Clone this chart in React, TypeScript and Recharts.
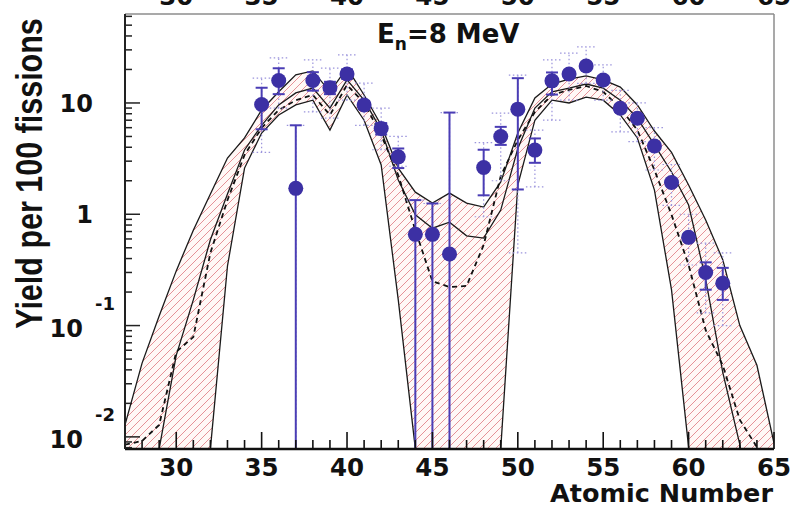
import React from 'react';
import {
  ComposedChart,
  Area,
  Line,
  Scatter,
  XAxis,
  YAxis,
  ErrorBar,
  ReferenceLine,
} from 'recharts';

// ---- model curves (yield per 100 fissions) at Z = 27..65 ----
const atomicNumbers = [
  27, 28, 29, 30, 31, 32, 33, 34, 35, 36, 37, 38, 39, 40, 41, 42, 43, 44, 45, 46,
  47, 48, 49, 50, 51, 52, 53, 54, 55, 56, 57, 58, 59, 60, 61, 62, 63, 64, 65,
];
const upperCurve = [
  0.0128, 0.046, 0.122, 0.31, 0.72, 1.52, 3.2, 4.85, 8.65, 12.6, 17.9, 19.4, 12.6,
  20.6, 11.8, 6.3, 2.6, 1.58, 1.26, 1.55, 1.26, 1.16, 1.95, 5.37, 11.1, 14.8, 16.4,
  17.5, 16.1, 13.9, 9.6, 5.6, 3.6, 1.83, 0.89, 0.39, 0.1, 0.044, 0.0088,
];
const middleCurve = [
  0.001, 0.001, 0.0078, 0.054, 0.17, 0.59, 1.52, 3.78, 6.3, 9.6, 12.3, 13.6, 9.0,
  16.1, 10.6, 5.7, 2.03, 0.99, 0.75, 0.85, 0.64, 0.61, 1.09, 3.9, 9.0, 12.6, 13.6,
  14.8, 13.6, 10.6, 7.3, 4.2, 2.4, 1.21, 0.26, 0.038, 0.0085, 0.001, 0.001,
];
const dashedCurve = [
  0.0085, 0.0092, 0.0128, 0.058, 0.079, 0.45, 1.34, 3.41, 5.96, 8.65, 10.6, 11.8,
  7.8, 14.5, 10, 5.15, 2.25, 0.72, 0.25, 0.222, 0.227, 0.53, 2.2, 4.65, 8.3, 11.8,
  13.1, 14.2, 12.6, 9.0, 5.7, 2.5, 0.99, 0.35, 0.091, 0.044, 0.0142, 0.0081, 0.001,
];
const lowerCurve = [
  0.001, 0.001, 0.001, 0.001, 0.001, 0.0078, 0.343, 2.6, 5.37, 7.8, 9.6, 10.6, 5.7,
  11.8, 7.0, 2.77, 0.17, 0.0078, 0.001, 0.001, 0.001, 0.001, 0.0078, 1.83, 7.0, 10.6,
  10, 11.3, 10.6, 7.8, 4.85, 1.65, 0.209, 0.0081, 0.001, 0.001, 0.001, 0.001, 0.001,
];

// ---- measured points ----
const pointZ = [
  35, 36, 37, 38, 39, 40, 41, 42, 43, 44, 45, 46, 48, 49, 50, 51, 52, 53, 54, 55, 56,
  57, 58, 59, 60, 61, 62,
];
const pointYield = [
  9.7, 15.9, 1.71, 15.9, 13.7, 18.2, 9.6, 5.9, 3.28, 0.66, 0.66, 0.44, 2.63, 5.0, 8.8,
  3.77, 15.8, 18.2, 21.5, 16.1, 8.96, 7.3, 4.1, 1.93, 0.62, 0.3, 0.24,
];
// statistical error bounds
const pointLow = [
  5.8, 12.0, 0.00778, 12.9, 12.0, 16.5, 8.8, 5.2, 2.6, 0.00778, 0.00778, 0.00778, 1.48,
  4.2, 1.67, 2.9, 11.9, 17.0, 20.0, 15.0, 8.3, 6.8, 3.8, 1.8, 0.58, 0.21, 0.17,
];
const pointHigh = [
  13.7, 20.5, 6.3, 18.9, 15.5, 20.0, 10.4, 6.6, 3.9, 1.34, 1.25, 8.2, 3.8, 6.1, 16.7,
  4.8, 18.8, 19.5, 23.0, 17.3, 9.6, 7.8, 4.4, 2.05, 0.66, 0.37, 0.33,
];
// systematic (dotted) error bounds
const sysLow = [
  3.6, 9.0, 0.00778, 8.3, 7.3, 10.6, 6.3, 3.8, 2.7, 0.00778, 0.00778, 0.00778, 0.95,
  2.0, 0.45, 1.76, 7.0, 10.6, 15.0, 10.6, 5.5, 4.5, 2.5, 1.2, 0.35, 0.13, 0.1,
];
const sysHigh = [
  16.7, 25.4, 6.3, 24.4, 20.6, 27.0, 15.1, 9.0, 5.0, 1.34, 1.25, 8.2, 4.4, 8.1, 17.8,
  5.7, 24.4, 28.0, 31.9, 22.0, 13.0, 10.0, 6.0, 2.8, 1.0, 0.55, 0.45,
];

// ---- axis ticks ----
const xTicks = [
  28, 29, 30, 31, 32, 33, 34, 35, 36, 37, 38, 39, 40, 41, 42, 43, 44, 45, 46, 47, 48,
  49, 50, 51, 52, 53, 54, 55, 56, 57, 58, 59, 60, 61, 62, 63, 64, 65,
];
const xTopTicks = [30, 35, 40, 45, 50, 55, 60, 65];
const yTicks = [
  0.008, 0.009, 0.01, 0.02, 0.03, 0.04, 0.05, 0.06, 0.07, 0.08, 0.09, 0.1, 0.2, 0.3,
  0.4, 0.5, 0.6, 0.7, 0.8, 0.9, 1, 2, 3, 4, 5, 6, 7, 8, 9, 10, 20, 30, 40, 50, 60,
];
const yDomain = [0.00778, 63];

const curveData = atomicNumbers.map((z, i) => ({
  z,
  up: upperCurve[i],
  mid: middleCurve[i],
  dash: dashedCurve[i],
  lo: lowerCurve[i],
}));
const pointData = pointZ.map((z, i) => ({
  z,
  y: pointYield[i],
  err: [pointYield[i] - pointLow[i], pointHigh[i] - pointYield[i]],
  sys: [pointYield[i] - sysLow[i], sysHigh[i] - pointYield[i]],
}));

const FONT = 'DejaVu Sans, Verdana, sans-serif';

const BottomTick = (props: any) => {
  const { x, y, payload } = props;
  const v = payload.value;
  const major = v % 5 === 0;
  return (
    <g>
      <line x1={x} x2={x} y1={y} y2={y - (major ? 17 : 9)} stroke="#111" strokeWidth={1.6} />
      {major && (
        <text x={x} y={y + 27} textAnchor="middle" fontFamily={FONT} fontWeight="bold" fontSize={24.5} fill="#111">
          {v}
        </text>
      )}
    </g>
  );
};

const TopTick = (props: any) => {
  const { x, y, payload } = props;
  return (
    <text x={x} y={y - 9} textAnchor="middle" fontFamily={FONT} fontWeight="bold" fontSize={24.5} fill="#111">
      {payload.value}
    </text>
  );
};

const YTick = (props: any) => {
  const { x, y, payload } = props;
  const v = payload.value;
  const lg = Math.log10(v);
  const e = Math.round(lg);
  const major = Math.abs(lg - e) < 1e-6;
  const common = { fontFamily: FONT, fontWeight: 'bold' as const, fill: '#111' };
  let label: React.ReactNode = null;
  if (major) {
    if (e === 1) {
      label = (
        <text x={x - 32} y={y + 9} textAnchor="end" fontSize={24} {...common}>10</text>
      );
    } else if (e === 0) {
      label = (
        <text x={x - 32} y={y + 9} textAnchor="end" fontSize={24} {...common}>1</text>
      );
    } else {
      label = (
        <g>
          <text x={x - 42} y={y + 11} textAnchor="end" fontSize={24} {...common}>10</text>
          <text x={x - 30} y={y - 16} textAnchor="start" fontSize={18} {...common}>{`-${-e}`}</text>
        </g>
      );
    }
  }
  return (
    <g>
      <line x1={x} x2={x + (major ? 15 : 7)} y1={y} y2={y} stroke="#222" strokeWidth={1.5} />
      {label}
    </g>
  );
};

const XTitle = () => (
  <text x={773} y={502} textAnchor="end" fontFamily={FONT} fontWeight="bold" fontSize={25.5} fill="#111">
    Atomic Number
  </text>
);

const YTitle = () => (
  <text
    transform="translate(42,173.5) scale(1.2,1) rotate(-90)"
    textAnchor="middle"
    fontFamily="Liberation Sans, Arial, sans-serif"
    fontWeight="bold"
    fontSize={30.5}
    fill="#111"
  >
    Yield per 100 fissions
  </text>
);

const PlotTitle = () => (
  <text x={377} y={43} fontFamily={FONT} fontWeight="bold" fontSize={26} fill="#111">
    <tspan>E</tspan>
    <tspan dy={7} fontSize={17}>n</tspan>
    <tspan dy={-7}>=8 MeV</tspan>
  </text>
);

const Dot = (props: any) => {
  const { cx, cy } = props;
  if (cx == null || cy == null) return null;
  return <circle cx={cx} cy={cy} r={7.5} fill="#3c30a4" />;
};

export default function App() {
  return (
    <div style={{ position: 'absolute', left: 0, top: 0, width: 796, height: 508, background: '#fff' }}>
      <ComposedChart
        width={796}
        height={508}
        data={curveData}
        margin={{ top: 0, right: 22, bottom: 0, left: 0 }}
      >
        <defs>
          <pattern id="hatch" width="8" height="8" patternUnits="userSpaceOnUse">
            <rect width="8" height="8" fill="#fff8f6" />
            <path d="M-2,2 L2,-2 M0,8 L8,0 M6,10 L10,6" stroke="#e07f85" strokeWidth="0.85" />
          </pattern>
        </defs>
        <XAxis
          dataKey="z"
          type="number"
          domain={[27, 65]}
          allowDataOverflow
          ticks={xTicks}
          interval={0}
          tick={<BottomTick />}
          tickLine={false}
          tickSize={0}
          tickMargin={0}
          height={59}
          axisLine={{ stroke: '#111', strokeWidth: 2.5 }}
          label={<XTitle />}
        />
        <XAxis
          xAxisId="top"
          orientation="top"
          dataKey="z"
          type="number"
          domain={[27, 65]}
          allowDataOverflow
          ticks={xTopTicks}
          interval={0}
          tick={<TopTick />}
          tickLine={false}
          tickSize={0}
          tickMargin={0}
          height={14}
          axisLine={{ stroke: '#8c8c8c', strokeWidth: 1.5 }}
          label={<PlotTitle />}
        />
        <YAxis
          scale="log"
          type="number"
          domain={yDomain}
          allowDataOverflow
          ticks={yTicks}
          interval={0}
          tick={<YTick />}
          tickLine={false}
          tickSize={0}
          tickMargin={0}
          width={125}
          axisLine={{ stroke: '#222', strokeWidth: 2 }}
          label={<YTitle />}
        />
        <ReferenceLine x={65} stroke="#8c8c8c" strokeWidth={1.5} />
        <Area
          type="linear"
          dataKey={(d: any) => [d.lo, d.up]}
          fill="url(#hatch)"
          fillOpacity={1}
          stroke="none"
          isAnimationActive={false}
          activeDot={false}
        />
        <Line type="linear" dataKey="up" stroke="#1a1a1a" strokeWidth={1.3} dot={false} activeDot={false} isAnimationActive={false} />
        <Line type="linear" dataKey="mid" stroke="#1a1a1a" strokeWidth={1.3} dot={false} activeDot={false} isAnimationActive={false} />
        <Line type="linear" dataKey="lo" stroke="#1a1a1a" strokeWidth={1.3} dot={false} activeDot={false} isAnimationActive={false} />
        <Line
          type="linear"
          dataKey="dash"
          stroke="#111"
          strokeWidth={1.8}
          strokeDasharray="5 4"
          dot={false}
          activeDot={false}
          isAnimationActive={false}
        />
        <Scatter data={pointData} dataKey="y" shape={<Dot />} isAnimationActive={false}>
          <ErrorBar dataKey="sys" direction="y" width={9} stroke="#9b94dc" strokeWidth={1.2} strokeDasharray="1.5 2.5" />
          <ErrorBar dataKey="err" direction="y" width={6} stroke="#4a3db5" strokeWidth={2} />
        </Scatter>
      </ComposedChart>
    </div>
  );
}
